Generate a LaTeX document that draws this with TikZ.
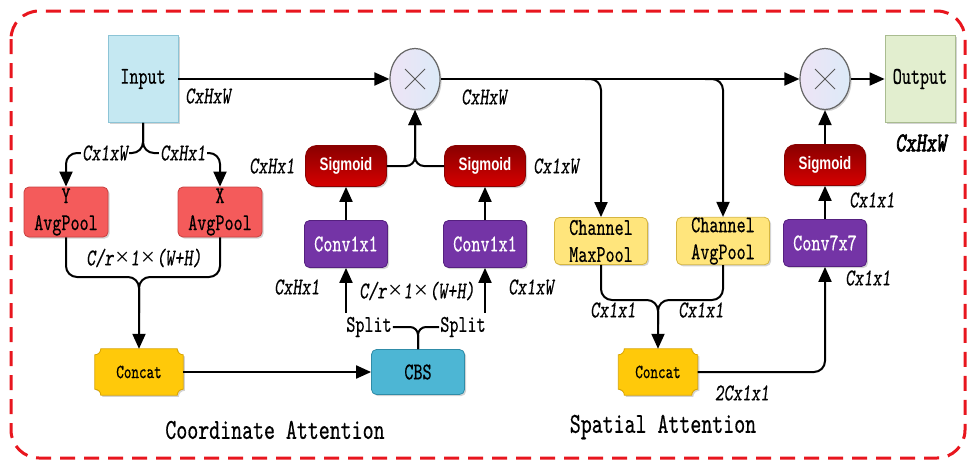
\documentclass[tikz,border=0pt]{standalone}
\usepackage{fontspec}
\usetikzlibrary{arrows.meta,shadows,calc,shapes.geometric}
\newfontfamily\mono[Extension=.otf, UprightFont=lmmono10-regular, ItalicFont=lmmonoslant10-regular,
  BoldFont=lmmono10-regular, BoldFeatures={FakeBold=2},
  BoldItalicFont=lmmonoslant10-regular, BoldItalicFeatures={FakeBold=2.5},
  FakeStretch=0.72, FakeBold=0.5]{lmmono10}
\newfontfamily\sigfont[FakeStretch=0.74]{Liberation Sans}
\newfontfamily\timesfont{Liberation Serif}

\definecolor{inputfill}{HTML}{C5E8F2}
\definecolor{inputdraw}{HTML}{8CC4D6}
\definecolor{poolred}{HTML}{F45B5B}
\definecolor{poolreddraw}{HTML}{C84040}
\definecolor{concatfill}{HTML}{FFC90A}
\definecolor{concatdraw}{HTML}{D9A400}
\definecolor{cbsfill}{HTML}{4DB6D4}
\definecolor{cbsdraw}{HTML}{2F8CA8}
\definecolor{convfill}{HTML}{7434A6}
\definecolor{convdraw}{HTML}{55207F}
\definecolor{sigtop}{HTML}{8A0000}
\definecolor{sigbot}{HTML}{D60000}
\definecolor{chfill}{HTML}{FFE57C}
\definecolor{chdraw}{HTML}{D6B640}
\definecolor{outfill}{HTML}{E2EECF}
\definecolor{outdraw}{HTML}{A9BC90}
\definecolor{mulleft}{HTML}{EEE4F6}
\definecolor{mulright}{HTML}{DCEAF7}
\definecolor{framered}{HTML}{E8161E}

\pgfdeclarelayer{bg}
\pgfsetlayers{bg,main}

% concave-cornered plaque drawn around a node
\newcommand\plaque[1]{%
  \path[plaqueshape]
    ($(#1.north west)+(6,0)$) -- ($(#1.north east)+(-6,0)$)
    .. controls ($(#1.north east)+(-6,3.3)$) and ($(#1.north east)+(-3.3,6)$) .. ($(#1.north east)+(0,6)$)
    -- ($(#1.south east)+(0,-6)$)
    .. controls ($(#1.south east)+(-3.3,-6)$) and ($(#1.south east)+(-6,-3.3)$) .. ($(#1.south east)+(-6,0)$)
    -- ($(#1.south west)+(6,0)$)
    .. controls ($(#1.south west)+(6,-3.3)$) and ($(#1.south west)+(3.3,-6)$) .. ($(#1.south west)+(0,-6)$)
    -- ($(#1.north west)+(0,6)$)
    .. controls ($(#1.north west)+(3.3,6)$) and ($(#1.north west)+(6,3.3)$) .. ($(#1.north west)+(6,0)$)
    -- cycle;}

% thin, wide multiplication sign for the shape labels
\newcommand\tms{{\timesfont\fontsize{25}{25}\selectfont ×}}

\begin{document}
\begin{tikzpicture}[x=1pt,y=-1pt,
  arr/.style={-{Triangle[width=13pt,length=15pt]}, line width=2pt},
  link/.style={line width=2pt, rounded corners=11pt},
  shade/.style={drop shadow={shadow xshift=1.6pt, shadow yshift=-1.6pt, opacity=.35}},
  boxtext/.style={font=\mono\fontsize{24}{27}\selectfont, align=center, inner sep=0pt},
  plainbox/.style={boxtext, shade, line width=0.8pt},
  roundbox/.style={plainbox, rounded corners=5pt},
  inbox/.style={plainbox, fill=inputfill, draw=inputdraw, minimum width=70pt, minimum height=87pt},
  outbox/.style={plainbox, fill=outfill, draw=outdraw, minimum width=70pt, minimum height=87pt},
  poolbox/.style={roundbox, fill=poolred, draw=poolreddraw, minimum width=84pt, minimum height=50pt},
  chbox/.style={roundbox, fill=chfill, draw=chdraw, minimum width=93pt, minimum height=47pt},
  convbox/.style={roundbox, fill=convfill, draw=convdraw, text=white, minimum width=83pt, minimum height=47pt},
  cbsbox/.style={roundbox, fill=cbsfill, draw=cbsdraw, minimum width=93pt, minimum height=45pt},
  sigbox/.style={shade, rounded corners=11pt, top color=sigtop, bottom color=sigbot, draw=sigtop,
    line width=0.8pt, text=white, font=\sigfont\bfseries\fontsize{18}{20}\selectfont,
    minimum width=81pt, minimum height=41pt, inner sep=0pt},
  concatbox/.style={font=\mono\fontsize{20}{22}\selectfont, inner sep=0pt, minimum height=46pt},
  plaqueshape/.style={fill=concatfill, draw=concatdraw, line width=0.8pt, shade},
  mulnode/.style={ellipse, shade, left color=mulleft, right color=mulright, draw=black!60,
    line width=1.2pt, minimum width=50pt, minimum height=61pt, inner sep=0pt},
  lbl/.style={font=\mono\itshape\fontsize{24}{26}\selectfont, inner sep=1pt},
  onl/.style={lbl, fill=white},
  caption/.style={font=\mono\fontsize{29}{31}\selectfont, inner sep=0pt}]

\useasboundingbox (0,0) rectangle (969,461);

% outer dashed frame
\draw[framered, line width=3pt, dash pattern=on 15pt off 9pt, rounded corners=28pt]
  (11,11) rectangle (965,458);

% ---------------- nodes ----------------
\node[inbox]  (input)  at (143,79) {Input};
\node[poolbox] (yavg)  at (66,212) {Y\\AvgPool};
\node[poolbox] (xavg)  at (220,212) {X\\AvgPool};
\node[concatbox, minimum width=88pt] (concat1) at (139,372) {Concat};
\node[cbsbox] (cbs)    at (418,372) {CBS};
\node[boxtext, inner sep=1pt] (splitL) at (369,327) {Split};
\node[boxtext, inner sep=1pt] (splitR) at (463,327) {Split};
\node[convbox] (convL) at (346,244) {Conv1x1};
\node[convbox] (convR) at (485,244) {Conv1x1};
\node[sigbox]  (sigL)  at (346,166) {Sigmoid};
\node[sigbox]  (sigR)  at (485,166) {Sigmoid};
\node[mulnode] (mul1)  at (415,79) {};
\node[chbox]   (chmax) at (601,241) {Channel\\MaxPool};
\node[chbox]   (chavg) at (723,241) {Channel\\AvgPool};
\node[concatbox, minimum width=79pt] (concat2) at (658,372) {Concat};
\node[convbox] (conv7) at (825,243) {Conv7x7};
\node[sigbox]  (sig3)  at (825,165) {Sigmoid};
\node[mulnode] (mul2)  at (825,79) {};
\node[outbox]  (output) at (920,79) {Output};

\begin{pgfonlayer}{bg}
  \plaque{concat1}
  \plaque{concat2}
\end{pgfonlayer}

% multiplication signs
\foreach \m in {mul1,mul2}{
  \draw[black!65, line width=1pt] ($(\m)+(-10,-10)$) -- ($(\m)+(10,10)$);
  \draw[black!65, line width=1pt] ($(\m)+(-10,10)$) -- ($(\m)+(10,-10)$);
}

% ---------------- connectors ----------------
\draw[arr] (input.east) -- (mul1.west);
\draw[arr] (mul1.east) -- (mul2.west);
\draw[arr] (mul2.east) -- (output.west);

% coordinate attention branch
\coordinate (jin) at (143,153);
\draw[arr, link] (input.south) -- (jin) -| (yavg.north);
\draw[arr, link] (input.south) -- (jin) -| (xavg.north);

\coordinate (jpool) at (139,277);
\draw[arr, link] (yavg.south) |- (jpool) -- (concat1.north);
\draw[link] (xavg.south) |- (jpool) -- ($(jpool)!0.5!(concat1.north)$);

\draw[arr] (concat1.east) -- (cbs.west);

\draw[link, rounded corners=8pt] (splitL.east) -| (cbs.north);
\draw[link, rounded corners=8pt] (splitR.west) -| (cbs.north);

\coordinate (sL) at ($(convL.south |- splitL.north)+(0,-3)$);
\coordinate (sR) at ($(convR.south |- splitR.north)+(0,-3)$);
\draw[arr] (sL) -- (convL.south);
\draw[arr] (sR) -- (convR.south);

\draw[arr] (convL.north) -- (sigL.south);
\draw[arr] (convR.north) -- (sigR.south);
\draw[arr, link, rounded corners=9pt] (sigL.east) -| (mul1.south);
\draw[arr, link, rounded corners=9pt] (sigR.west) -| (mul1.south);

% spatial attention branch
\coordinate (bMax) at (585,79);
\coordinate (bAvg) at (705,79);
\draw[arr, link] (bMax) -| (chmax.north);
\draw[arr, link] (bAvg) -| (chavg.north);

\coordinate (jch) at (658,300);
\draw[arr, link] (chmax.south) |- (jch) -- (concat2.north);
\draw[link] (chavg.south) |- (jch) -- ($(jch)!0.5!(concat2.north)$);

\draw[arr, link] (concat2.east) -| (conv7.south);
\draw[arr] (conv7.north) -- (sig3.south);
\draw[arr] (sig3.north) -- (mul2.south);

% ---------------- labels ----------------
\node[lbl] (lIn)   at (208,96)  {CxHxW};
\node[onl] (lYw)   at (105,153) {Cx1xW};
\node[onl] (lXh)   at (183,153) {CxHx1};
\node[lbl] (lCat1) at (144,258) {C/r\tms 1\tms(W+H)};
\node[lbl] (lSgL)  at (272,166) {CxHx1};
\node[lbl] (lSgR)  at (556,166) {Cx1xW};
\node[lbl] (lCvL)  at (297,287) {CxHx1};
\node[lbl] (lCbs)  at (417,291) {C/r\tms 1\tms(W+H)};
\node[lbl] (lCvR)  at (531,287) {Cx1xW};
\node[lbl] (lMul1) at (484,97)  {CxHxW};
\node[lbl] (lMax)  at (613,310) {Cx1x1};
\node[lbl] (lAvg)  at (701,310) {Cx1x1};
\node[lbl] (lCat2) at (742,393) {2Cx1x1};
\node[lbl] (lC7)   at (868,278) {Cx1x1};
\node[lbl] (lSg3)  at (872,200) {Cx1x1};
\node[lbl, font=\mono\bfseries\itshape\fontsize{27}{29}\selectfont] (lOut) at (921,143) {CxHxW};

\node[caption] (capCA) at (275,430) {Coordinate Attention};
\node[caption] (capSA) at (663,427) {Spatial Attention};
\end{tikzpicture}
\end{document}
